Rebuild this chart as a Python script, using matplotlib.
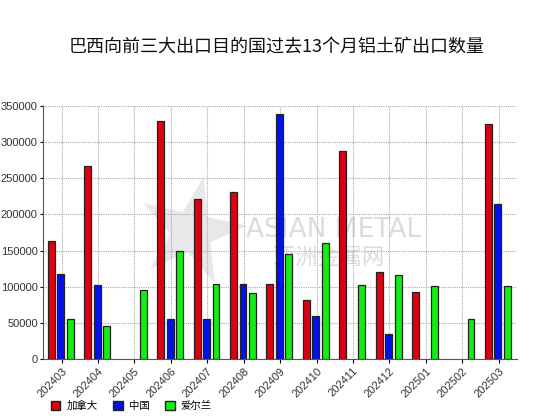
import numpy as np
import matplotlib
matplotlib.use("Agg")
import matplotlib.pyplot as plt
from matplotlib.patches import Patch

plt.rcParams['font.family'] = ['Noto Sans CJK SC', 'DejaVu Sans']

months = ["202403", "202404", "202405", "202406", "202407", "202408", "202409",
          "202410", "202411", "202412", "202501", "202502", "202503"]
canada = [163000, 267000, 0, 330000, 221000, 231000, 104000, 82000, 288000, 121000, 93000, 0, 325000]
china = [117000, 103000, 0, 55000, 56000, 104000, 339000, 60000, 0, 35000, 0, 0, 214000]
ireland = [56000, 46000, 95000, 150000, 104000, 91000, 146000, 161000, 103000, 116000, 101000, 55000, 101000]
names = ["加拿大", "中国", "爱尔兰"]
colors = ["#dd0011", "#0011ee", "#11ee11"]

fig = plt.figure(figsize=(5.54, 4.16), dpi=100)
ax = fig.add_axes([0.077, 0.137, 0.856, 0.608])

# watermark
ax.text(0.31, 0.47, "★", transform=ax.transAxes, fontsize=100, color="#e8e8e8",
        ha="center", va="center", family="DejaVu Sans", rotation=-12, zorder=1)
ax.text(0.614, 0.51, "ASIAN METAL", transform=ax.transAxes, fontsize=19, color="#dcdcdc",
        ha="center", va="center", family="DejaVu Sans", zorder=1)
ax.text(0.604, 0.40, "亚洲金属网", transform=ax.transAxes, fontsize=16, color="#dcdcdc",
        ha="center", va="center", zorder=1)

x = np.arange(len(months))
w = 0.19
for i, (vals, c) in enumerate(zip([canada, china, ireland], colors)):
    v = np.array(vals)
    m = v > 0
    ax.bar(x[m] + (i - 1) * 0.26 - 0.02, v[m], width=w, color=c,
           edgecolor="#222222", linewidth=0.9, zorder=3)

ax.set_xlim(-0.52, 12.5)
ax.set_ylim(0, 350000)
ax.set_yticks(np.arange(0, 350001, 50000))
ax.set_xticks(x)
ax.set_xticklabels(months, rotation=45, ha="right", rotation_mode="anchor", fontsize=8,
                   color="#333333", family="Liberation Sans")
ax.tick_params(axis="y", labelsize=8, labelcolor="#333333", length=2, pad=1.5)
ax.tick_params(axis="x", length=3, pad=2)
for lab in ax.get_yticklabels():
    lab.set_family("Liberation Sans")
ax.grid(True, linestyle=(0, (1, 1)), color="#aaaaaa", linewidth=0.8, zorder=2)
ax.spines["top"].set_visible(False)
ax.spines["right"].set_visible(False)
ax.spines["left"].set_color("#555555")
ax.spines["bottom"].set_color("#555555")

fig.text(0.5, 0.885, "巴西向前三大出口目的国过去13个月铝土矿出口数量", ha="center", va="center",
         fontsize=13, color="#111111")

handles = [Patch(facecolor=c, edgecolor="#222222", label=n) for c, n in zip(colors, names)]
fig.legend(handles=handles, loc="lower left", bbox_to_anchor=(0.075, -0.01), ncol=3, frameon=False,
           fontsize=7.5, handlelength=0.9, handleheight=0.9, columnspacing=1.5, handletextpad=0.6)

fig.savefig("out.png", dpi=100)
